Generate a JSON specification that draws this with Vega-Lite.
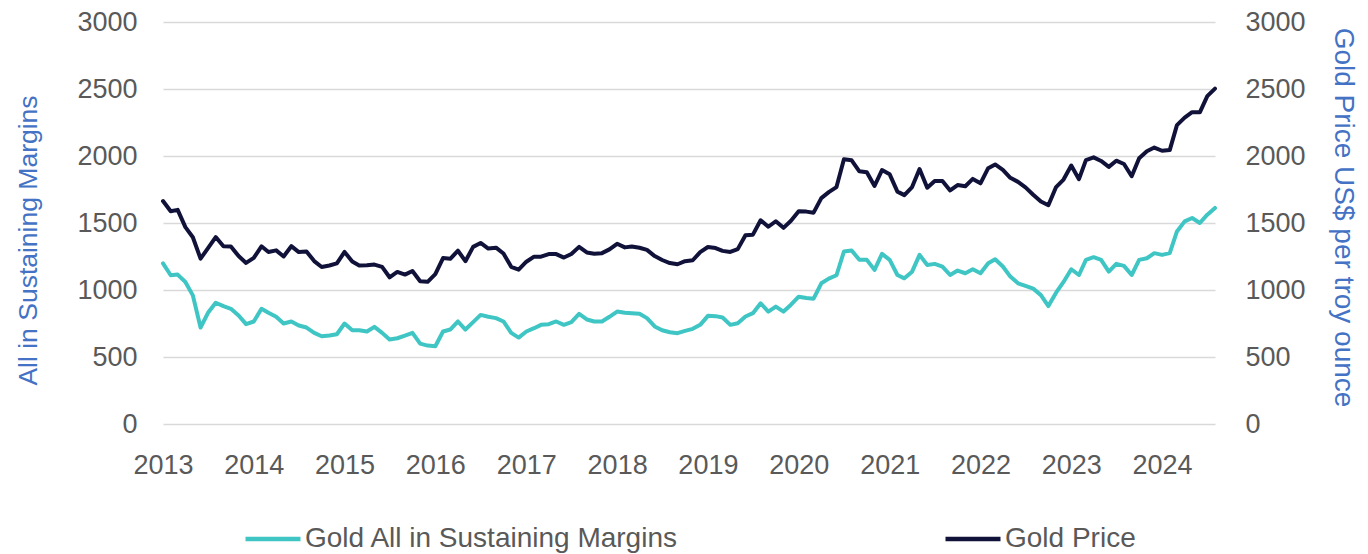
{
  "$schema": "https://vega.github.io/schema/vega-lite/v6.json",
  "autosize": {"type": "none"},
  "width": 1052,
  "height": 402,
  "padding": {"left": 163, "top": 22, "right": 153, "bottom": 130},
  "background": "white",
  "config": {
    "view": {"stroke": null},
    "font": "Liberation Sans",
    "axis": {"labelFont": "Liberation Sans", "titleFont": "Liberation Sans"},
    "legend": {"labelFont": "Liberation Sans"}
  },
  "data": {
    "values": [
      {"date": "2013-01-01", "aisc": 1198, "gold": 1664},
      {"date": "2013-02-01", "aisc": 1110, "gold": 1588},
      {"date": "2013-03-01", "aisc": 1115, "gold": 1598},
      {"date": "2013-04-01", "aisc": 1060, "gold": 1469},
      {"date": "2013-05-01", "aisc": 960, "gold": 1394},
      {"date": "2013-06-01", "aisc": 720, "gold": 1234},
      {"date": "2013-07-01", "aisc": 830, "gold": 1312},
      {"date": "2013-08-01", "aisc": 905, "gold": 1395},
      {"date": "2013-09-01", "aisc": 880, "gold": 1326},
      {"date": "2013-10-01", "aisc": 860, "gold": 1324},
      {"date": "2013-11-01", "aisc": 810, "gold": 1253},
      {"date": "2013-12-01", "aisc": 745, "gold": 1202},
      {"date": "2014-01-01", "aisc": 765, "gold": 1240},
      {"date": "2014-02-01", "aisc": 860, "gold": 1326},
      {"date": "2014-03-01", "aisc": 830, "gold": 1284},
      {"date": "2014-04-01", "aisc": 800, "gold": 1296},
      {"date": "2014-05-01", "aisc": 750, "gold": 1250},
      {"date": "2014-06-01", "aisc": 765, "gold": 1327},
      {"date": "2014-07-01", "aisc": 735, "gold": 1283},
      {"date": "2014-08-01", "aisc": 720, "gold": 1287},
      {"date": "2014-09-01", "aisc": 680, "gold": 1216},
      {"date": "2014-10-01", "aisc": 655, "gold": 1172},
      {"date": "2014-11-01", "aisc": 660, "gold": 1183},
      {"date": "2014-12-01", "aisc": 670, "gold": 1199},
      {"date": "2015-01-01", "aisc": 750, "gold": 1284},
      {"date": "2015-02-01", "aisc": 700, "gold": 1213},
      {"date": "2015-03-01", "aisc": 700, "gold": 1183},
      {"date": "2015-04-01", "aisc": 690, "gold": 1184},
      {"date": "2015-05-01", "aisc": 725, "gold": 1190},
      {"date": "2015-06-01", "aisc": 680, "gold": 1172},
      {"date": "2015-07-01", "aisc": 630, "gold": 1095},
      {"date": "2015-08-01", "aisc": 640, "gold": 1135},
      {"date": "2015-09-01", "aisc": 660, "gold": 1115},
      {"date": "2015-10-01", "aisc": 680, "gold": 1142},
      {"date": "2015-11-01", "aisc": 600, "gold": 1065},
      {"date": "2015-12-01", "aisc": 585, "gold": 1061},
      {"date": "2016-01-01", "aisc": 580, "gold": 1118},
      {"date": "2016-02-01", "aisc": 690, "gold": 1238},
      {"date": "2016-03-01", "aisc": 705, "gold": 1233},
      {"date": "2016-04-01", "aisc": 765, "gold": 1293},
      {"date": "2016-05-01", "aisc": 705, "gold": 1215},
      {"date": "2016-06-01", "aisc": 760, "gold": 1322},
      {"date": "2016-07-01", "aisc": 814, "gold": 1351},
      {"date": "2016-08-01", "aisc": 800, "gold": 1309},
      {"date": "2016-09-01", "aisc": 790, "gold": 1316},
      {"date": "2016-10-01", "aisc": 765, "gold": 1272},
      {"date": "2016-11-01", "aisc": 680, "gold": 1173},
      {"date": "2016-12-01", "aisc": 645, "gold": 1152},
      {"date": "2017-01-01", "aisc": 690, "gold": 1211},
      {"date": "2017-02-01", "aisc": 715, "gold": 1249},
      {"date": "2017-03-01", "aisc": 740, "gold": 1249},
      {"date": "2017-04-01", "aisc": 745, "gold": 1268},
      {"date": "2017-05-01", "aisc": 765, "gold": 1268},
      {"date": "2017-06-01", "aisc": 740, "gold": 1242},
      {"date": "2017-07-01", "aisc": 760, "gold": 1269},
      {"date": "2017-08-01", "aisc": 822, "gold": 1322},
      {"date": "2017-09-01", "aisc": 780, "gold": 1280},
      {"date": "2017-10-01", "aisc": 765, "gold": 1271},
      {"date": "2017-11-01", "aisc": 765, "gold": 1275},
      {"date": "2017-12-01", "aisc": 800, "gold": 1303},
      {"date": "2018-01-01", "aisc": 839, "gold": 1345},
      {"date": "2018-02-01", "aisc": 830, "gold": 1318},
      {"date": "2018-03-01", "aisc": 827, "gold": 1325},
      {"date": "2018-04-01", "aisc": 822, "gold": 1315},
      {"date": "2018-05-01", "aisc": 790, "gold": 1299},
      {"date": "2018-06-01", "aisc": 728, "gold": 1253},
      {"date": "2018-07-01", "aisc": 700, "gold": 1224},
      {"date": "2018-08-01", "aisc": 685, "gold": 1201},
      {"date": "2018-09-01", "aisc": 678, "gold": 1192},
      {"date": "2018-10-01", "aisc": 695, "gold": 1215},
      {"date": "2018-11-01", "aisc": 710, "gold": 1222},
      {"date": "2018-12-01", "aisc": 740, "gold": 1282},
      {"date": "2019-01-01", "aisc": 807, "gold": 1321},
      {"date": "2019-02-01", "aisc": 805, "gold": 1313},
      {"date": "2019-03-01", "aisc": 795, "gold": 1292},
      {"date": "2019-04-01", "aisc": 740, "gold": 1284},
      {"date": "2019-05-01", "aisc": 752, "gold": 1305},
      {"date": "2019-06-01", "aisc": 802, "gold": 1409},
      {"date": "2019-07-01", "aisc": 827, "gold": 1413},
      {"date": "2019-08-01", "aisc": 901, "gold": 1520},
      {"date": "2019-09-01", "aisc": 839, "gold": 1472},
      {"date": "2019-10-01", "aisc": 876, "gold": 1513},
      {"date": "2019-11-01", "aisc": 839, "gold": 1464},
      {"date": "2019-12-01", "aisc": 890, "gold": 1517},
      {"date": "2020-01-01", "aisc": 950, "gold": 1587},
      {"date": "2020-02-01", "aisc": 940, "gold": 1585},
      {"date": "2020-03-01", "aisc": 935, "gold": 1577},
      {"date": "2020-04-01", "aisc": 1050, "gold": 1686},
      {"date": "2020-05-01", "aisc": 1085, "gold": 1730},
      {"date": "2020-06-01", "aisc": 1110, "gold": 1768},
      {"date": "2020-07-01", "aisc": 1287, "gold": 1975},
      {"date": "2020-08-01", "aisc": 1295, "gold": 1968},
      {"date": "2020-09-01", "aisc": 1225, "gold": 1886},
      {"date": "2020-10-01", "aisc": 1225, "gold": 1879},
      {"date": "2020-11-01", "aisc": 1150, "gold": 1776},
      {"date": "2020-12-01", "aisc": 1270, "gold": 1895},
      {"date": "2021-01-01", "aisc": 1225, "gold": 1863},
      {"date": "2021-02-01", "aisc": 1112, "gold": 1734},
      {"date": "2021-03-01", "aisc": 1087, "gold": 1708},
      {"date": "2021-04-01", "aisc": 1137, "gold": 1768},
      {"date": "2021-05-01", "aisc": 1262, "gold": 1903},
      {"date": "2021-06-01", "aisc": 1187, "gold": 1763},
      {"date": "2021-07-01", "aisc": 1195, "gold": 1814},
      {"date": "2021-08-01", "aisc": 1175, "gold": 1814},
      {"date": "2021-09-01", "aisc": 1112, "gold": 1743},
      {"date": "2021-10-01", "aisc": 1145, "gold": 1783},
      {"date": "2021-11-01", "aisc": 1125, "gold": 1774},
      {"date": "2021-12-01", "aisc": 1155, "gold": 1829},
      {"date": "2022-01-01", "aisc": 1125, "gold": 1796},
      {"date": "2022-02-01", "aisc": 1200, "gold": 1909},
      {"date": "2022-03-01", "aisc": 1230, "gold": 1937},
      {"date": "2022-04-01", "aisc": 1175, "gold": 1897},
      {"date": "2022-05-01", "aisc": 1100, "gold": 1837},
      {"date": "2022-06-01", "aisc": 1050, "gold": 1807},
      {"date": "2022-07-01", "aisc": 1030, "gold": 1766},
      {"date": "2022-08-01", "aisc": 1010, "gold": 1711},
      {"date": "2022-09-01", "aisc": 962, "gold": 1660},
      {"date": "2022-10-01", "aisc": 880, "gold": 1633},
      {"date": "2022-11-01", "aisc": 980, "gold": 1768},
      {"date": "2022-12-01", "aisc": 1060, "gold": 1824},
      {"date": "2023-01-01", "aisc": 1155, "gold": 1929},
      {"date": "2023-02-01", "aisc": 1112, "gold": 1827},
      {"date": "2023-03-01", "aisc": 1225, "gold": 1969},
      {"date": "2023-04-01", "aisc": 1245, "gold": 1990},
      {"date": "2023-05-01", "aisc": 1225, "gold": 1963},
      {"date": "2023-06-01", "aisc": 1137, "gold": 1919},
      {"date": "2023-07-01", "aisc": 1195, "gold": 1965},
      {"date": "2023-08-01", "aisc": 1180, "gold": 1940},
      {"date": "2023-09-01", "aisc": 1112, "gold": 1849},
      {"date": "2023-10-01", "aisc": 1225, "gold": 1983},
      {"date": "2023-11-01", "aisc": 1237, "gold": 2036},
      {"date": "2023-12-01", "aisc": 1275, "gold": 2063},
      {"date": "2024-01-01", "aisc": 1262, "gold": 2039},
      {"date": "2024-02-01", "aisc": 1275, "gold": 2044},
      {"date": "2024-03-01", "aisc": 1437, "gold": 2230},
      {"date": "2024-04-01", "aisc": 1512, "gold": 2286},
      {"date": "2024-05-01", "aisc": 1537, "gold": 2327},
      {"date": "2024-06-01", "aisc": 1500, "gold": 2326},
      {"date": "2024-07-01", "aisc": 1562, "gold": 2447},
      {"date": "2024-08-01", "aisc": 1612, "gold": 2503}
    ]
  },
  "transform": [
    {"fold": ["aisc", "gold"], "as": ["series", "value"]}
  ],
  "encoding": {
    "x": {
      "field": "date",
      "type": "temporal",
      "scale": {
        "type": "utc",
        "domain": [
          {"year": 2013, "month": 1, "date": 1, "utc": true},
          {"year": 2024, "month": 8, "date": 1, "utc": true}
        ]
      },
      "axis": {
        "title": null,
        "format": "%Y",
        "tickCount": {"interval": "year", "step": 1},
        "grid": false,
        "domain": false,
        "ticks": false,
        "labelFontSize": 27,
        "labelColor": "#595959",
        "labelPadding": 28,
        "labelFlush": false,
        "labelOverlap": false
      }
    },
    "color": {
      "field": "series",
      "type": "nominal",
      "scale": {"domain": ["aisc", "gold"], "range": ["#3fc6c4", "#11123a"]},
      "legend": {
        "title": null,
        "orient": "none",
        "legendX": 80,
        "legendY": 487,
        "direction": "horizontal",
        "symbolType": "stroke",
        "symbolSize": 3025,
        "symbolStrokeWidth": 4.5,
        "labelFontSize": 28,
        "labelColor": "#595959",
        "labelOffset": 2,
        "labelLimit": 600,
        "columnPadding": 257,
        "labelExpr": "datum.label == 'aisc' ? 'Gold All in Sustaining Margins' : 'Gold Price'"
      }
    }
  },
  "layer": [
    {
      "transform": [{"filter": "datum.series == 'aisc'"}],
      "mark": {"type": "line", "strokeWidth": 4, "strokeJoin": "round", "strokeCap": "round"},
      "encoding": {
        "y": {
          "field": "value",
          "type": "quantitative",
          "scale": {"domain": [0, 3000], "nice": false},
          "axis": {
            "orient": "left",
            "title": "All in Sustaining Margins",
            "titleColor": "#4472c4",
            "titleFontSize": 26.5,
            "titleFontWeight": "normal",
            "titleX": -121,
            "titleY": 218,
            "values": [0, 500, 1000, 1500, 2000, 2500, 3000],
            "format": "d",
            "grid": true,
            "gridColor": "#d9d9d9",
            "gridWidth": 1.5,
            "domain": false,
            "ticks": false,
            "labelFontSize": 27,
            "labelColor": "#595959",
            "labelPadding": 26
          }
        }
      }
    },
    {
      "transform": [{"filter": "datum.series == 'gold'"}],
      "mark": {"type": "line", "strokeWidth": 4, "strokeJoin": "round", "strokeCap": "round"},
      "encoding": {
        "y": {
          "field": "value",
          "type": "quantitative",
          "scale": {"domain": [0, 3000], "nice": false},
          "axis": {
            "orient": "right",
            "title": "Gold Price US$ per troy ounce",
            "titleColor": "#4472c4",
            "titleFontSize": 28,
            "titleFontWeight": "normal",
            "titleX": 113,
            "titleY": 195,
            "values": [0, 500, 1000, 1500, 2000, 2500, 3000],
            "format": "d",
            "grid": false,
            "domain": false,
            "ticks": false,
            "labelFontSize": 27,
            "labelColor": "#595959",
            "labelPadding": 30
          }
        }
      }
    }
  ],
  "resolve": {"scale": {"y": "independent"}}
}
